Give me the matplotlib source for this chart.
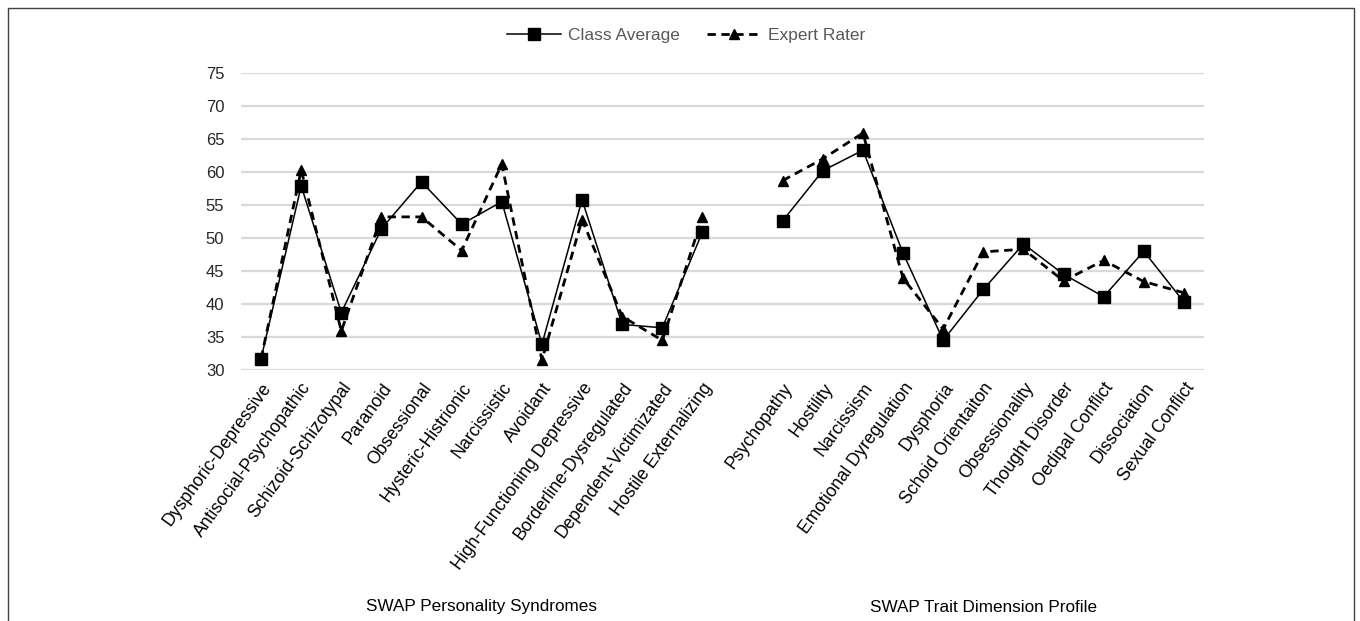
import matplotlib
matplotlib.use("Agg")
import matplotlib.pyplot as plt
import matplotlib.transforms as mtransforms
from matplotlib.patches import Rectangle
import numpy as np

plt.rcParams['font.family'] = ['Liberation Sans', 'DejaVu Sans']

# ---- data ----
syndromes = ["Dysphoric-Depressive", "Antisocial-Psychopathic", "Schizoid-Schizotypal",
             "Paranoid", "Obsessional", "Hysteric-Histrionic", "Narcissistic", "Avoidant",
             "High-Functioning Depressive", "Borderline-Dysregulated",
             "Dependent-Victimizated", "Hostile Externalizing"]
syn_class = [31.7, 57.9, 38.7, 51.4, 58.5, 52.1, 55.5, 33.9, 55.8, 36.9, 36.4, 50.9]
syn_expert = [31.7, 60.3, 35.9, 53.2, 53.2, 48.1, 61.2, 31.5, 52.8, 38.1, 34.5, 53.2]

traits = ["Psychopathy", "Hostility", "Narcissism", "Emotional Dyregulation", "Dysphoria",
          "Schoid Orientaiton", "Obsessionality", "Thought Disorder", "Oedipal Conflict",
          "Dissociation", "Sexual Conflict"]
trait_class = [52.6, 60.2, 63.3, 47.7, 34.5, 42.2, 49.1, 44.5, 41.1, 48.0, 40.3]
trait_expert = [58.7, 62.0, 65.9, 43.9, 36.2, 47.9, 48.3, 43.5, 46.6, 43.4, 41.7]

group_names = ["SWAP Personality Syndromes", "SWAP Trait Dimension Profile"]
y_ticks = [30, 35, 40, 45, 50, 55, 60, 65, 70, 75]

# ---- figure ----
W, H = 1360, 621
fig = plt.figure(figsize=(W / 100, H / 100), dpi=100)
ax = fig.add_axes([241 / W, 1 - 370 / H, (1204 - 241) / W, (370 - 73) / H])

x1 = np.arange(len(syndromes))
x2 = np.arange(len(traits)) + len(syndromes) + 1

text_col = '#262626'
cls_kw = dict(color='black', linestyle='-', linewidth=1.1, marker='s', markersize=8)
exp_kw = dict(color='black', linestyle=(0, (3, 2)), linewidth=2.0, marker='^', markersize=7.5)

l1, = ax.plot(x1, syn_class, label='Class Average', zorder=4, **cls_kw)
l2, = ax.plot(x1, syn_expert, label='Expert Rater', zorder=3, **exp_kw)
ax.plot(x2, trait_class, zorder=4, **cls_kw)
ax.plot(x2, trait_expert, zorder=3, **exp_kw)

ax.set_ylim(30, 75)
ax.set_xlim(-0.5, len(syndromes) + len(traits) + 0.5)
ax.set_yticks(y_ticks)
ax.yaxis.grid(True, color='#d9d9d9', linewidth=1.6)
ax.set_axisbelow(True)
for s in ax.spines.values():
    s.set_visible(False)
ax.tick_params(axis='y', length=0, pad=12, labelsize=12, labelcolor=text_col)
ax.tick_params(axis='x', length=0, pad=7)

xt = list(x1) + list(x2)
ax.set_xticks(xt)
ax.set_xticklabels(syndromes + traits, rotation=54, ha='right', va='top',
                   rotation_mode='anchor', fontsize=12.7, color='black')

trans = mtransforms.blended_transform_factory(ax.transData, fig.transFigure)
ax.text(np.mean(x1), 1 - 607 / H, group_names[0], transform=trans, ha='center',
        va='center', fontsize=12.3, color='black')
ax.text(np.mean(x2), 1 - 607 / H, group_names[1], transform=trans, ha='center',
        va='center', fontsize=12.3, color='black')

leg = fig.legend(handles=[l1, l2], loc='center', bbox_to_anchor=(686 / W, 1 - 35 / H),
                 ncol=2, frameon=False, fontsize=12.5, handlelength=3.1,
                 columnspacing=1.6, handletextpad=0.4)
for t in leg.get_texts():
    t.set_color('#595959')

fig.patches.append(Rectangle((7.5 / W, -0.05), (1354 - 7.5) / W, 1.05 - 8 / H,
                             transform=fig.transFigure, fill=False,
                             edgecolor='#404040', linewidth=1.0))

fig.savefig('out.png', dpi=100, facecolor='white')
